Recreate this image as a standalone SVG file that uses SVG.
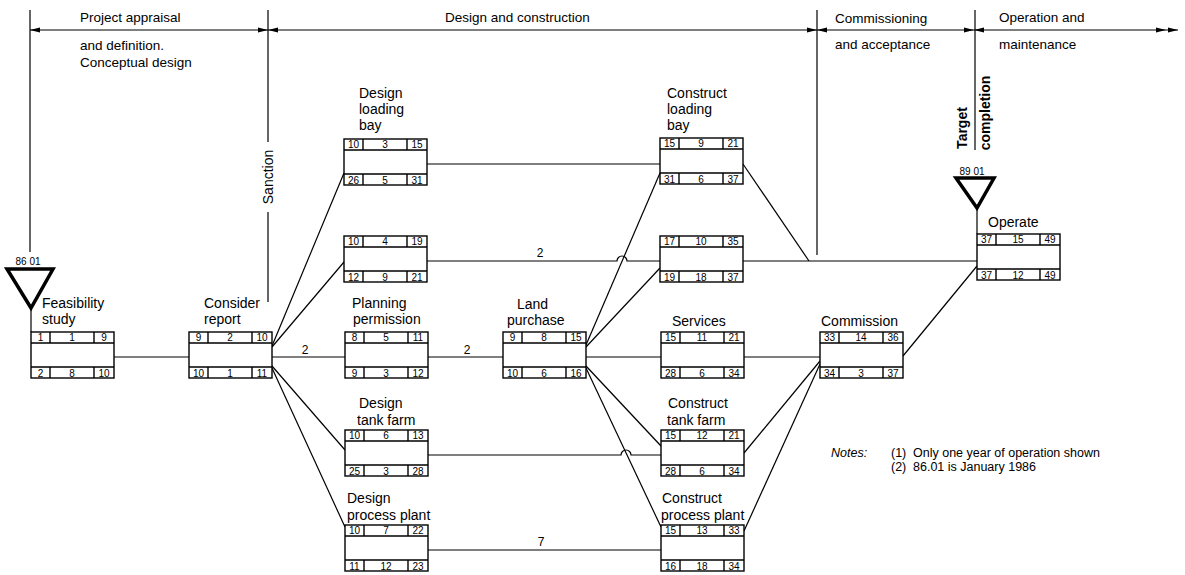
<svg xmlns="http://www.w3.org/2000/svg" xmlns:xlink="http://www.w3.org/1999/xlink" width="1185" height="575" viewBox="0 0 1185 575">
<style>
text{font-family:"Liberation Sans",Arial,sans-serif;fill:#000}
.lb{font-size:14px}
.hd{font-size:13.5px}
.nt{font-size:12.5px}
.n{font-size:10px;text-anchor:middle}
.cl{font-size:12px;text-anchor:middle}
.ln{stroke:#000;stroke-width:1.2;fill:none}
.fr{stroke:#000;stroke-width:1.4;fill:#fff}
.tri{stroke:#000;stroke-width:3.5;fill:none;stroke-linejoin:miter}
.rot{font-size:14px;font-weight:bold;text-anchor:middle}
</style>
<defs>
<marker id="ah" viewBox="0 0 10 6" refX="10" refY="3" markerWidth="10" markerHeight="6" markerUnits="userSpaceOnUse" orient="auto-start-reverse"><path d="M0,0.6L10,3L0,5.4Z" fill="#000"/></marker>
<marker id="ah2" viewBox="0 0 22 6" refX="22" refY="3" markerWidth="22" markerHeight="6" markerUnits="userSpaceOnUse" orient="auto"><path d="M0,0.6L10,3L0,5.4Z M12,0.6L22,3L12,5.4Z" fill="#000"/></marker>
<g id="frame" class="fr"><rect x="0" y="0" width="83" height="46"/><path d="M0,11H83M0,35H83M19,0V11M63,0V11M19,35V46M63,35V46"/></g>
</defs>
<rect width="1185" height="575" fill="#fff"/>

<g id="timeline">
<path class="ln" d="M30,30H268" marker-start="url(#ah)" marker-end="url(#ah)"/>
<path class="ln" d="M268,30H817" marker-start="url(#ah)" marker-end="url(#ah)"/>
<path class="ln" d="M817,30H974" marker-start="url(#ah)" marker-end="url(#ah)"/>
<path class="ln" d="M974,30H1178" marker-start="url(#ah)" marker-end="url(#ah2)"/>
<path class="ln" d="M30,10V252"/>
<path class="ln" d="M268,10V142M268,212V302"/>
<path class="ln" d="M817,10V255"/>
<path class="ln" d="M975,10V150"/>
<text class="hd" x="80" y="22">Project appraisal</text>
<text class="hd" x="80" y="50">and definition.</text>
<text class="hd" x="80" y="67">Conceptual design</text>
<text class="hd" x="445" y="22">Design and construction</text>
<text class="hd" x="835" y="23">Commissioning</text>
<text class="hd" x="835" y="49">and acceptance</text>
<text class="hd" x="999" y="22">Operation and</text>
<text class="hd" x="999" y="49">maintenance</text>
<text class="lb" text-anchor="middle" transform="translate(273,177) rotate(-90)">Sanction</text>
<text class="rot" transform="translate(967,128) rotate(-90)">Target</text>
<text class="rot" transform="translate(990,113) rotate(-90)">completion</text>
</g>

<g id="milestone-start">
<text class="n" x="28" y="265">86 01</text>
<path class="tri" d="M7,269H53L31,308Z"/>
<path class="ln" d="M31,308V332"/>
</g>
<g id="milestone-end">
<text class="n" x="972" y="175">89 01</text>
<path class="tri" d="M956,178H994L977,208Z"/>
<path class="ln" d="M977,208V234"/>
</g>

<g id="connectors" class="ln">
<path d="M114,357H189"/>
<path d="M272,346L344,173"/>
<path d="M272,347L344,262"/>
<path d="M272,357H345"/>
<path d="M272,366L345,450"/>
<path d="M272,368L345,527"/>
<path d="M427,164H660"/>
<path d="M427,261H617a5,5 0 0 1 10,0H660"/>
<path d="M428,357H503"/>
<path d="M428,455H621a5,5 0 0 1 10,0H661"/>
<path d="M428,550H661"/>
<path d="M586,345L660,173"/>
<path d="M586,347L660,268"/>
<path d="M586,357H661"/>
<path d="M586,366L661,446"/>
<path d="M586,368L661,527"/>
<path d="M743,164L809,261"/>
<path d="M743,261H977"/>
<path d="M744,357H820"/>
<path d="M744,453L820,361"/>
<path d="M744,531L820,364"/>
<path d="M903,356L977,266"/>
</g>
<g id="connector-labels">
<text class="cl" x="305" y="354">2</text>
<text class="cl" x="467" y="354">2</text>
<text class="cl" x="540" y="257">2</text>
<text class="cl" x="541" y="546">7</text>
</g>

<g id="feasibility">
<use href="#frame" x="31" y="332"/>
<text class="lb" x="42" y="308">Feasibility</text><text class="lb" x="42" y="324">study</text>
<text class="n" x="40.5" y="341">1</text><text class="n" x="72" y="341">1</text><text class="n" x="104" y="341">9</text>
<text class="n" x="40.5" y="376.5">2</text><text class="n" x="72" y="376.5">8</text><text class="n" x="104" y="376.5">10</text>
</g>
<g id="consider-report">
<use href="#frame" x="189" y="332"/>
<text class="lb" x="204" y="308">Consider</text><text class="lb" x="204" y="324">report</text>
<text class="n" x="198.5" y="341">9</text><text class="n" x="230" y="341">2</text><text class="n" x="262" y="341">10</text>
<text class="n" x="198.5" y="376.5">10</text><text class="n" x="230" y="376.5">1</text><text class="n" x="262" y="376.5">11</text>
</g>
<g id="design-loading-bay">
<use href="#frame" x="344" y="139"/>
<text class="lb" x="359" y="98">Design</text><text class="lb" x="359" y="114">loading</text><text class="lb" x="359" y="130">bay</text>
<text class="n" x="353.5" y="148">10</text><text class="n" x="385" y="148">3</text><text class="n" x="417" y="148">15</text>
<text class="n" x="353.5" y="183.5">26</text><text class="n" x="385" y="183.5">5</text><text class="n" x="417" y="183.5">31</text>
</g>
<g id="activity-4">
<use href="#frame" x="344" y="236"/>
<text class="n" x="353.5" y="245">10</text><text class="n" x="385" y="245">4</text><text class="n" x="417" y="245">19</text>
<text class="n" x="353.5" y="280.5">12</text><text class="n" x="385" y="280.5">9</text><text class="n" x="417" y="280.5">21</text>
</g>
<g id="planning-permission">
<use href="#frame" x="345" y="332"/>
<text class="lb" x="352" y="308">Planning</text><text class="lb" x="353" y="324">permission</text>
<text class="n" x="354.5" y="341">8</text><text class="n" x="386" y="341">5</text><text class="n" x="418" y="341">11</text>
<text class="n" x="354.5" y="376.5">9</text><text class="n" x="386" y="376.5">3</text><text class="n" x="418" y="376.5">12</text>
</g>
<g id="design-tank-farm">
<use href="#frame" x="345" y="430"/>
<text class="lb" x="359" y="408">Design</text><text class="lb" x="357" y="425">tank farm</text>
<text class="n" x="354.5" y="439">10</text><text class="n" x="386" y="439">6</text><text class="n" x="418" y="439">13</text>
<text class="n" x="354.5" y="474.5">25</text><text class="n" x="386" y="474.5">3</text><text class="n" x="418" y="474.5">28</text>
</g>
<g id="design-process-plant">
<use href="#frame" x="345" y="525"/>
<text class="lb" x="347" y="503">Design</text><text class="lb" x="347" y="520">process plant</text>
<text class="n" x="354.5" y="534">10</text><text class="n" x="386" y="534">7</text><text class="n" x="418" y="534">22</text>
<text class="n" x="354.5" y="569.5">11</text><text class="n" x="386" y="569.5">12</text><text class="n" x="418" y="569.5">23</text>
</g>
<g id="land-purchase">
<use href="#frame" x="503" y="332"/>
<text class="lb" x="517" y="309">Land</text><text class="lb" x="507" y="325">purchase</text>
<text class="n" x="512.5" y="341">9</text><text class="n" x="544" y="341">8</text><text class="n" x="576" y="341">15</text>
<text class="n" x="512.5" y="376.5">10</text><text class="n" x="544" y="376.5">6</text><text class="n" x="576" y="376.5">16</text>
</g>
<g id="construct-loading-bay">
<use href="#frame" x="660" y="138"/>
<text class="lb" x="667" y="98">Construct</text><text class="lb" x="667" y="114">loading</text><text class="lb" x="667" y="130">bay</text>
<text class="n" x="669.5" y="147">15</text><text class="n" x="701" y="147">9</text><text class="n" x="733" y="147">21</text>
<text class="n" x="669.5" y="182.5">31</text><text class="n" x="701" y="182.5">6</text><text class="n" x="733" y="182.5">37</text>
</g>
<g id="activity-10">
<use href="#frame" x="660" y="236"/>
<text class="n" x="669.5" y="245">17</text><text class="n" x="701" y="245">10</text><text class="n" x="733" y="245">35</text>
<text class="n" x="669.5" y="280.5">19</text><text class="n" x="701" y="280.5">18</text><text class="n" x="733" y="280.5">37</text>
</g>
<g id="services">
<use href="#frame" x="661" y="332"/>
<text class="lb" x="672" y="326">Services</text>
<text class="n" x="670.5" y="341">15</text><text class="n" x="702" y="341">11</text><text class="n" x="734" y="341">21</text>
<text class="n" x="670.5" y="376.5">28</text><text class="n" x="702" y="376.5">6</text><text class="n" x="734" y="376.5">34</text>
</g>
<g id="construct-tank-farm">
<use href="#frame" x="661" y="430"/>
<text class="lb" x="668" y="408">Construct</text><text class="lb" x="667" y="425">tank farm</text>
<text class="n" x="670.5" y="439">15</text><text class="n" x="702" y="439">12</text><text class="n" x="734" y="439">21</text>
<text class="n" x="670.5" y="474.5">28</text><text class="n" x="702" y="474.5">6</text><text class="n" x="734" y="474.5">34</text>
</g>
<g id="construct-process-plant">
<use href="#frame" x="661" y="525"/>
<text class="lb" x="662" y="503">Construct</text><text class="lb" x="661" y="520">process plant</text>
<text class="n" x="670.5" y="534">15</text><text class="n" x="702" y="534">13</text><text class="n" x="734" y="534">33</text>
<text class="n" x="670.5" y="569.5">16</text><text class="n" x="702" y="569.5">18</text><text class="n" x="734" y="569.5">34</text>
</g>
<g id="commission">
<use href="#frame" x="820" y="332"/>
<text class="lb" x="821" y="326">Commission</text>
<text class="n" x="829.5" y="341">33</text><text class="n" x="861" y="341">14</text><text class="n" x="893" y="341">36</text>
<text class="n" x="829.5" y="376.5">34</text><text class="n" x="861" y="376.5">3</text><text class="n" x="893" y="376.5">37</text>
</g>
<g id="operate">
<use href="#frame" x="977" y="234"/>
<text class="lb" x="988" y="227">Operate</text>
<text class="n" x="986.5" y="243">37</text><text class="n" x="1018" y="243">15</text><text class="n" x="1050" y="243">49</text>
<text class="n" x="986.5" y="278.5">37</text><text class="n" x="1018" y="278.5">12</text><text class="n" x="1050" y="278.5">49</text>
</g>

<g id="notes">
<text class="nt" x="831" y="457" font-style="italic">Notes:</text>
<text class="nt" y="457"><tspan x="891">(1)</tspan><tspan x="913">Only one year of operation shown</tspan></text>
<text class="nt" y="471"><tspan x="891">(2)</tspan><tspan x="913">86.01 is January 1986</tspan></text>
</g>
</svg>
